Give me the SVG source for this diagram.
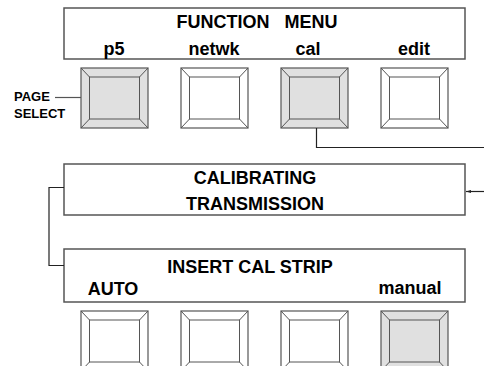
<svg xmlns="http://www.w3.org/2000/svg" width="484" height="366" viewBox="0 0 484 366">
<defs>
<style>
.box{fill:#fff;stroke:#555;stroke-width:1.5}
.t{font-family:"Liberation Sans",Arial,sans-serif;font-weight:bold;font-size:18px;fill:#000}
.s{font-family:"Liberation Sans",Arial,sans-serif;font-weight:bold;font-size:13px;fill:#000}
.btn{stroke:#555;stroke-width:1.2}
.on{fill:#e0e0e0}
.off{fill:#fff}
.bev{stroke:#555;stroke-width:1;fill:none}
.conn{fill:none;stroke:#222;stroke-width:1.2}
</style>
<marker id="ah" markerWidth="6" markerHeight="6" refX="5" refY="3" orient="auto" markerUnits="userSpaceOnUse">
<path d="M0,1.5 L5,3 L0,4.5 Z" fill="#222"/>
</marker>
<g id="button">
<rect class="btn" x="0" y="0" width="67" height="60"/>
<rect class="bev" x="8.5" y="9" width="50" height="42"/>
<path class="bev" d="M0,0 L8.5,9 M67,0 L58.5,9 M0,60 L8.5,51 M67,60 L58.5,51"/>
</g>
</defs>

<g id="function-menu">
<rect class="box" x="64" y="8" width="401" height="51"/>
<text class="t" x="257" y="28" text-anchor="middle" xml:space="preserve">FUNCTION   MENU</text>
<text class="t" x="114" y="55" text-anchor="middle">p5</text>
<text class="t" x="214" y="55" text-anchor="middle">netwk</text>
<text class="t" x="308" y="55" text-anchor="middle">cal</text>
<text class="t" x="414" y="55" text-anchor="middle">edit</text>
</g>

<g id="top-buttons">
<g id="btn-p5"><use href="#button" x="81" y="68" class="on"/></g>
<g id="btn-netwk"><use href="#button" x="181" y="68" class="off"/></g>
<g id="btn-cal"><use href="#button" x="281" y="68" class="on"/></g>
<g id="btn-edit"><use href="#button" x="381" y="68" class="off"/></g>
</g>

<g id="page-select">
<text class="s" x="14" y="101">PAGE</text>
<text class="s" x="14" y="118">SELECT</text>
<line x1="55" y1="97.5" x2="81" y2="97.5" stroke="#555" stroke-width="1.2"/>
</g>

<g id="calibrating">
<rect class="box" x="64" y="164" width="401" height="51"/>
<text class="t" x="255" y="184" text-anchor="middle">CALIBRATING</text>
<text class="t" x="255" y="210" text-anchor="middle">TRANSMISSION</text>
</g>

<g id="insert-cal-strip">
<rect class="box" x="64" y="249" width="401" height="53"/>
<text class="t" x="250" y="273" text-anchor="middle">INSERT CAL STRIP</text>
<text class="t" x="113" y="295" text-anchor="middle">AUTO</text>
<text class="t" x="410" y="294" text-anchor="middle">manual</text>
</g>

<g id="bottom-buttons">
<g id="btn-auto"><use href="#button" x="81" y="311" class="off"/></g>
<g id="btn-b2"><use href="#button" x="181" y="311" class="off"/></g>
<g id="btn-b3"><use href="#button" x="281" y="311" class="off"/></g>
<g id="btn-manual"><use href="#button" x="381" y="311" class="on"/></g>
</g>

<g id="connectors">
<path class="conn" d="M316.5,128 V147.5 H484"/>
<path class="conn" d="M484,191.5 H466" marker-end="url(#ah)"/>
<path class="conn" d="M64,187.5 H49 V265.5 H64"/>
</g>
</svg>
